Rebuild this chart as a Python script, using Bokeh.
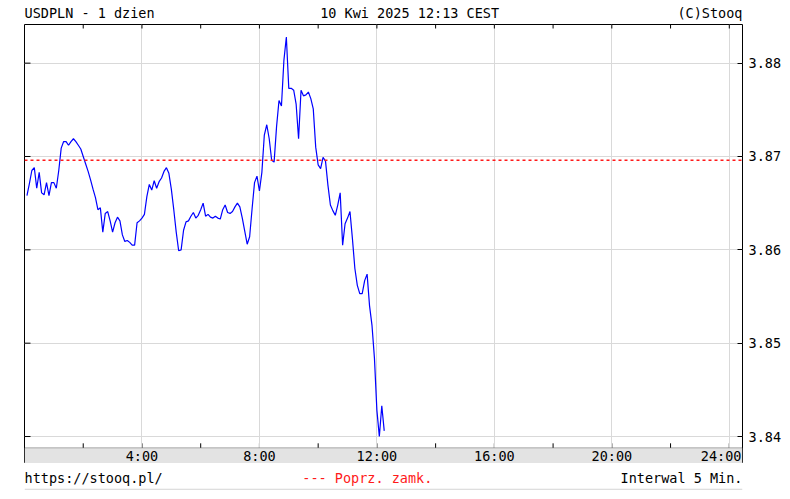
import math
from bokeh.plotting import figure
from bokeh.layouts import column
from bokeh.models import Range1d, FixedTicker, Span, BoxAnnotation
from bokeh.core.properties import value
from bokeh.embed import file_html
from bokeh.resources import INLINE

# ---------------- data ----------------
SYMBOL_TITLE = "USDPLN - 1 dzien"
DATE_TITLE = "10 Kwi 2025 12:13 CEST"
COPYRIGHT = "(C)Stooq"
SOURCE_URL = "https://stooq.pl/"
PREV_CLOSE_LABEL = "--- Poprz. zamk."
INTERVAL_LABEL = "Interwal 5 Min."

INTERVAL_MIN = 5
FIRST_BAR = 1  # first 5-minute bar: 00:05

prices = [
    3.8658, 3.8671, 3.8685, 3.8688, 3.8666, 3.8683, 3.8661, 3.8659, 3.8672, 3.8658,
    3.8672, 3.8672, 3.8666, 3.8685, 3.8709, 3.8716, 3.8716, 3.8712, 3.8716, 3.8719,
    3.8716, 3.8712, 3.8708, 3.8700, 3.8692, 3.8684, 3.8675, 3.8665, 3.8656, 3.8643,
    3.8645, 3.8619, 3.8639, 3.8641, 3.8631, 3.8619, 3.8629, 3.8635, 3.8631, 3.8616,
    3.8609, 3.8610, 3.8608, 3.8605, 3.8605, 3.8629, 3.8631, 3.8634, 3.8638, 3.8657,
    3.8670, 3.8664, 3.8674, 3.8666, 3.8673, 3.8677, 3.8684, 3.8688, 3.8682, 3.8665,
    3.8643, 3.8619, 3.8599, 3.8600, 3.8621, 3.8630, 3.8631, 3.8636, 3.8640, 3.8634,
    3.8637, 3.8643, 3.8650, 3.8636, 3.8638, 3.8635, 3.8634, 3.8636, 3.8634, 3.8633,
    3.8643, 3.8648, 3.8640, 3.8639, 3.8641, 3.8646, 3.8650, 3.8646, 3.8634, 3.8620,
    3.8606, 3.8614, 3.8644, 3.8672, 3.8679, 3.8663, 3.8683, 3.8723, 3.8734, 3.8719,
    3.8696, 3.8694, 3.8732, 3.8760, 3.8754, 3.8803, 3.8828, 3.8773, 3.8773, 3.8771,
    3.8756, 3.8719, 3.8771, 3.8765, 3.8766, 3.8769, 3.8762, 3.8751, 3.8710, 3.8691,
    3.8687, 3.8699, 3.8695, 3.8669, 3.8648, 3.8642, 3.8637, 3.8648, 3.8661, 3.8605,
    3.8628, 3.8634, 3.8641, 3.8612, 3.8580, 3.8562, 3.8553, 3.8553, 3.8567, 3.8574,
    3.8540, 3.8519, 3.8484, 3.8428, 3.8400, 3.8433, 3.8406,
]
hours = [(FIRST_BAR + k) * INTERVAL_MIN / 60.0 for k in range(len(prices))]

PREV_CLOSE = 3.8696

PRICE_TICKS = [3.84, 3.85, 3.86, 3.87, 3.88]
PRICE_LABELS = ["3.84", "3.85", "3.86", "3.87", "3.88"]
HOUR_TICKS = [4, 8, 12, 16, 20, 24]
HOUR_LABELS = ["4:00", "8:00", "12:00", "16:00", "20:00", "24:00"]
HOUR_MINOR = [2, 6, 10, 14, 18, 22]

# ---------------- layout / style ----------------
W = 790
LEFT, RIGHT = 24, 48
X_START, X_END = 0.0, 24.45
Y_START, Y_END = 3.83711, 3.88414
STRIP_TOP = 3.83879
STRIP_LABEL_Y = 3.83796
CENTER_HEADER_X = 10.07
CENTER_FOOTER_X = 9.46
SEPARATOR_Y = 0.08

FONT = "DejaVu Sans Mono"
FSIZE = "13.5px"
GRID = "#d9d9d9"
RED = "#ff1a1a"

xr = Range1d(X_START, X_END)


def blank(height):
    f = figure(width=W, height=height, x_range=xr, y_range=Range1d(0, 1),
               output_backend="svg", toolbar_location=None, title=None,
               x_axis_location=None, y_axis_location=None,
               min_border=0, min_border_left=LEFT, min_border_right=RIGHT,
               min_border_top=0, min_border_bottom=0)
    f.grid.visible = False
    f.outline_line_color = None
    f.background_fill_color = "white"
    f.border_fill_color = "white"
    return f


def put(f, x, s, align, color="black", y=0.5):
    f.text(x=[x], y=[y], text=[s], text_align=align, text_baseline="middle",
           text_font=value(FONT), text_font_size=value(FSIZE), text_color=color)


# header
header = blank(24)
put(header, X_START, SYMBOL_TITLE, "left")
put(header, CENTER_HEADER_X, DATE_TITLE, "left")
put(header, X_END, COPYRIGHT, "right")

# main chart
p = figure(width=W, height=439, x_range=xr, y_range=Range1d(Y_START, Y_END),
           output_backend="svg", toolbar_location=None,
           y_axis_location="right", x_axis_location=None, title=None,
           min_border=0, min_border_left=LEFT, min_border_right=RIGHT,
           min_border_top=0, min_border_bottom=0)
p.background_fill_color = "white"
p.border_fill_color = "white"
p.outline_line_color = "black"
p.outline_line_width = 1
p.outline_line_alpha = 1.0

p.xgrid.ticker = FixedTicker(ticks=HOUR_TICKS)
p.ygrid.ticker = FixedTicker(ticks=PRICE_TICKS)
p.xgrid.grid_line_color = GRID
p.ygrid.grid_line_color = GRID

yax = p.yaxis[0]
yax.ticker = FixedTicker(ticks=PRICE_TICKS)
yax.major_label_overrides = dict(zip(PRICE_TICKS, PRICE_LABELS))
yax.major_tick_in = 5
yax.major_tick_out = 0
yax.minor_tick_line_color = None
yax.axis_line_color = None
yax.major_label_standoff = 6
yax.major_label_text_font = FONT
yax.major_label_text_font_size = FSIZE
yax.major_label_text_color = "black"

all_hours = sorted(HOUR_TICKS + HOUR_MINOR)

# inward tick marks on the left and top edges and on the time strip (clipped to frame)
p.scatter(x=[X_START] * len(PRICE_TICKS), y=PRICE_TICKS, marker="dash", size=12,
          line_color="black", line_width=1)
p.scatter(x=all_hours, y=[Y_END] * len(all_hours), marker="dash", angle=math.pi / 2,
          size=8, line_color="black", line_width=1)
p.scatter(x=all_hours, y=[STRIP_TOP] * len(all_hours), marker="dash", angle=math.pi / 2,
          size=9, line_color="black", line_width=1, level="underlay")

strip = BoxAnnotation(top=STRIP_TOP, fill_color="#e3e3e3", fill_alpha=1.0,
                      line_color="black", line_width=1, level="glyph")
p.add_layout(strip)

p.text(x=HOUR_TICKS[:-1], y=[STRIP_LABEL_Y] * (len(HOUR_TICKS) - 1), text=HOUR_LABELS[:-1],
       text_align="center", text_baseline="middle", text_font=value(FONT),
       text_font_size=value(FSIZE), text_color="black", level="overlay")
p.text(x=[X_END], y=[STRIP_LABEL_Y], text=[HOUR_LABELS[-1]], x_offset=-1,
       text_align="right", text_baseline="middle", text_font=value(FONT),
       text_font_size=value(FSIZE), text_color="black", level="overlay")

p.add_layout(Span(location=PREV_CLOSE, dimension="width", line_color=RED,
                  line_dash="3 3", line_width=1.4))

p.line(hours, prices, line_color="#0000ff", line_width=1.2)

# footer
footer = blank(28)
put(footer, X_START, SOURCE_URL, "left")
put(footer, CENTER_FOOTER_X, PREV_CLOSE_LABEL, "left", RED)
put(footer, X_END, INTERVAL_LABEL, "right")
footer.add_layout(Span(location=SEPARATOR_Y, dimension="width", line_color="#d4d4d4",
                       line_width=1))

layout = column(header, p, footer, spacing=0)
open("out.html", "w").write(file_html(layout, INLINE))
